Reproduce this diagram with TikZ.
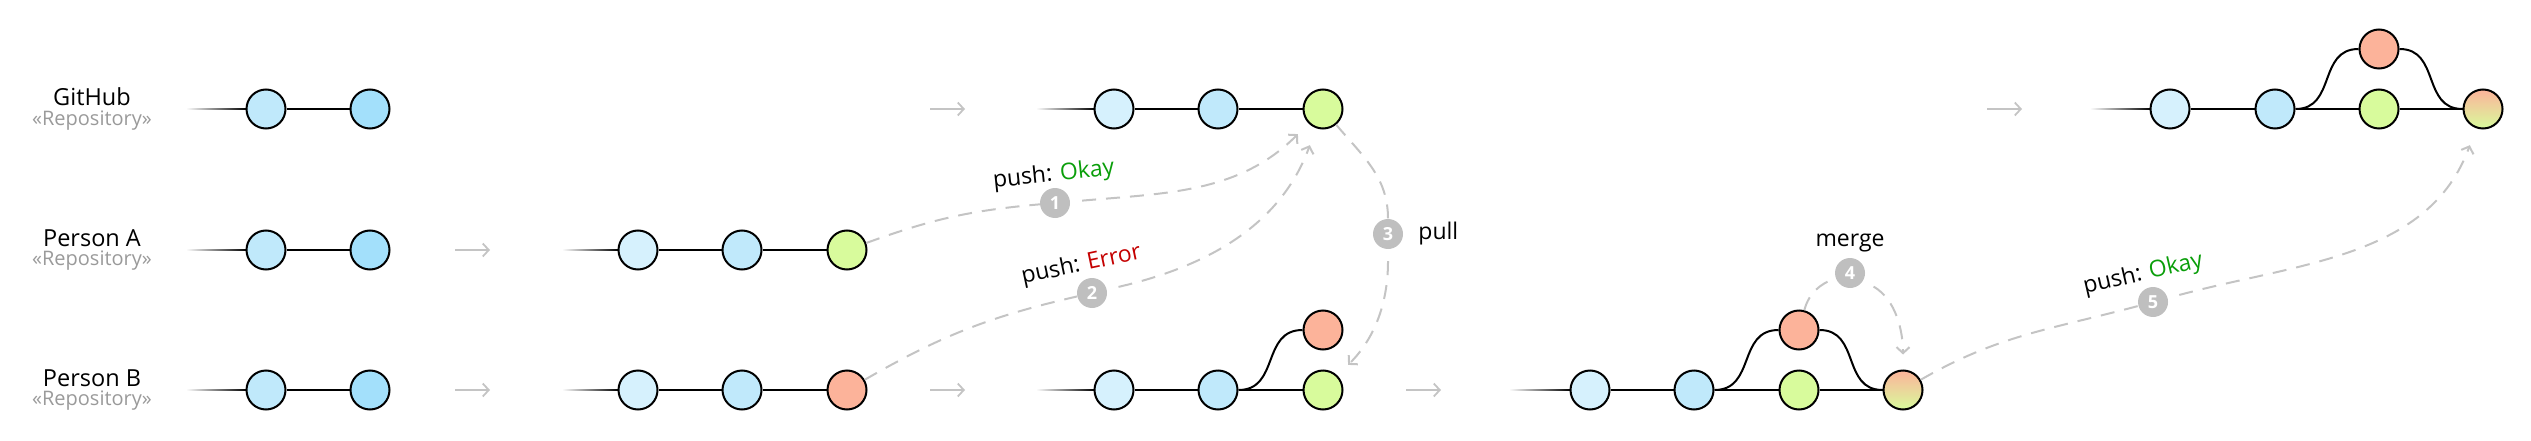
\documentclass[tikz,border=0pt]{standalone}
\usepackage{fontspec}
\setmainfont{Open Sans}
\usetikzlibrary{arrows.meta,positioning,fadings}

\definecolor{blueA}{HTML}{C0E9FB}
\definecolor{blueB}{HTML}{A3E0FB}
\definecolor{blueC}{HTML}{D6F1FD}
\definecolor{greenC}{HTML}{D8FB9C}
\definecolor{redC}{HTML}{FCB39A}
\definecolor{flowgray}{HTML}{C4C4C4}
\definecolor{badgegray}{HTML}{BFBFBF}
\definecolor{repogray}{HTML}{9A9A9A}
\definecolor{okgreen}{HTML}{0A9E0A}
\definecolor{errred}{HTML}{C40000}

\tikzset{
	commit/.style={circle, draw, line width=2pt, minimum size=39pt, inner sep=0pt},
	branch/.style={line width=2pt},
	tail/.style={line width=2pt, path fading=west},
	stepto/.style={line width=1.8pt, flowgray, -{Straight Barb[length=6pt,width=13pt]}},
	flow/.style={line width=2pt, flowgray, dash pattern=on 14pt off 10pt,
		-{Straight Barb[length=6pt,width=13pt]}, shorten <=12pt, shorten >=15pt},
	badge/.style={circle, fill=badgegray, text=white, minimum size=30pt, inner sep=0pt,
		font=\fontsize{18}{18}\selectfont\bfseries},
	who/.style={inner sep=0.5pt, font=\fontsize{23.5}{27}\selectfont},
	stereo/.style={inner sep=0.5pt, font=\fontsize{20}{24}\selectfont, text=repogray},
	step label/.style={inner sep=1pt, font=\fontsize{23}{27}\selectfont}
}

\begin{document}
\begin{tikzpicture}[x=1pt,y=1pt]
	\useasboundingbox (0,0) rectangle (2531,-441);
	
	% Repositories
	\node[who] (ghname) at (92,-97) {GitHub};
	\node[stereo] (ghrepo) at (92,-121) {«Repository»};
	\node[who] (aname) at (92,-238) {Person A};
	\node[stereo] (arepo) at (92,-261) {«Repository»};
	\node[who] (bname) at (92,-378) {Person B};
	\node[stereo] (brepo) at (92,-401) {«Repository»};
	
	% Start: everyone has the same history
	\foreach \r/\y in {g/109, a/250, b/390} {
		\coordinate (\r10) at (187,-\y);
		\node[commit, fill=blueA] (\r11) at (266,-\y) {};
		\node[commit, fill=blueB] (\r12) at (370,-\y) {};
		\draw[tail] (\r10) -- (\r11);
		\draw[branch] (\r11) -- (\r12);
	}
	
	% Step arrows
	\foreach \n/\x/\y in {1/455/250, 2/455/390, 3/930/109, 4/930/390, 5/1406/390, 6/1987/109} {
		\coordinate (s\n) at (\x,-\y);
		\coordinate (e\n) at (\x+35,-\y);
		\draw[stepto] (s\n) -- (e\n);
	}
	
	% Both persons commit
	\foreach \r/\y/\c in {a/250/greenC, b/390/redC} {
		\coordinate (\r20) at (563,-\y);
		\node[commit, fill=blueC] (\r21) at (638,-\y) {};
		\node[commit, fill=blueA] (\r22) at (742,-\y) {};
		\node[commit, fill=\c] (\r23) at (847,-\y) {};
		\draw[tail] (\r20) -- (\r21);
		\draw[branch] (\r21) -- (\r22) -- (\r23);
	}
	
	% After push of A and pull of B
	\foreach \r/\y in {g/109, b/390} {
		\coordinate (\r30) at (1037,-\y);
		\node[commit, fill=blueC] (\r31) at (1114,-\y) {};
		\node[commit, fill=blueA] (\r32) at (1218,-\y) {};
		\node[commit, fill=greenC] (\r33) at (1323,-\y) {};
		\draw[tail] (\r30) -- (\r31);
		\draw[branch] (\r31) -- (\r32) -- (\r33);
	}
	\node[commit, fill=redC] (b3r) at (1323,-330) {};
	\draw[branch] (b32) to[out=0, in=180, looseness=1.2] (b3r);
	
	% B merges
	\coordinate (b40) at (1510,-390);
	\node[commit, fill=blueC] (b41) at (1590,-390) {};
	\node[commit, fill=blueA] (b42) at (1694,-390) {};
	\node[commit, fill=greenC] (b43) at (1799,-390) {};
	\node[commit, top color=redC, bottom color=greenC] (b44) at (1903,-390) {};
	\node[commit, fill=redC] (b4r) at (1799,-330) {};
	\draw[tail] (b40) -- (b41);
	\draw[branch] (b41) -- (b42) -- (b43) -- (b44);
	\draw[branch] (b42) to[out=0, in=180, looseness=1.2] (b4r);
	\draw[branch] (b4r) to[out=0, in=180, looseness=1.2] (b44);
	
	% GitHub after push of B
	\coordinate (g50) at (2091,-109);
	\node[commit, fill=blueC] (g51) at (2170,-109) {};
	\node[commit, fill=blueA] (g52) at (2275,-109) {};
	\node[commit, fill=greenC] (g53) at (2379,-109) {};
	\node[commit, top color=redC, bottom color=greenC] (g54) at (2483,-109) {};
	\node[commit, fill=redC] (g5r) at (2379,-49) {};
	\draw[tail] (g50) -- (g51);
	\draw[branch] (g51) -- (g52) -- (g53) -- (g54);
	\draw[branch] (g52) to[out=0, in=180, looseness=1.2] (g5r);
	\draw[branch] (g5r) to[out=0, in=180, looseness=1.2] (g54);
	
	% Badges
	\node[badge] (n1) at (1055,-203) {1};
	\node[badge] (n2) at (1092,-293) {2};
	\node[badge] (n3) at (1388,-234) {3};
	\node[badge] (n4) at (1850,-273) {4};
	\node[badge] (n5) at (2153,-302) {5};
	
	% Labels
	\node[step label, above=0pt of n1, rotate=6] (t1) {push: \textcolor{okgreen}{Okay}};
	\node[step label, above=0pt of n2, xshift=-8pt, rotate=12] (t2) {push: \textcolor{errred}{Error}};
	\node[step label, right=14pt of n3] (t3) {pull};
	\node[step label, above=5pt of n4] (t4) {merge};
	\node[step label, above=0pt of n5, xshift=-7pt, rotate=13] (t5) {push: \textcolor{okgreen}{Okay}};
	
	% Flows
	\draw[flow] (a23) to[out=20, in=185] (n1) to[out=5, in=225] (g33);
	\draw[flow, shorten >=18pt] (b23) to[out=30, in=193] (n2) to[out=13, in=250] (g33);
	\draw[flow] (g33) to[out=-50, in=90] (n3) to[out=-90, in=45] (b33);
	\draw[flow] (b4r) to[out=75, in=200] (n4) to[out=-30, in=90] (b44);
	\draw[flow, shorten >=18pt] (b44) to[out=30, in=195] (n5) to[out=15, in=250] (g54);
\end{tikzpicture}
\end{document}
